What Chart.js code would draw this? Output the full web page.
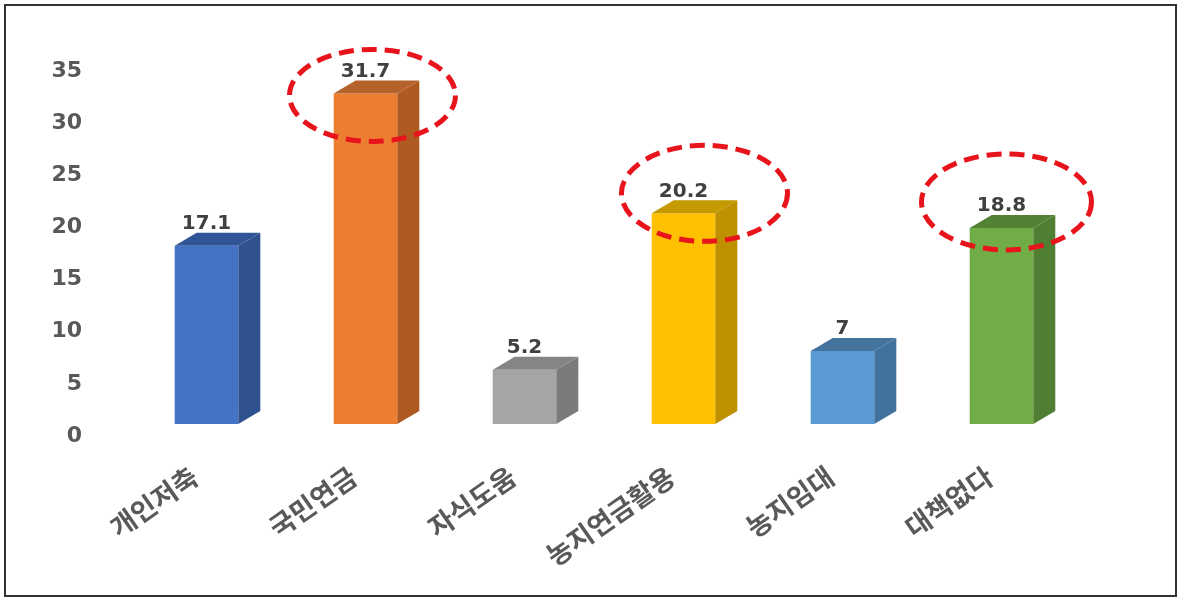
<!DOCTYPE html>
<html>
<head>
<meta charset="utf-8">
<script src="https://cdn.jsdelivr.net/npm/chart.js"></script>
<style>
  html, body { margin: 0; padding: 0; background: #fff; }
  #wrap { width: 1180px; height: 598px; position: relative; }
</style>
</head>
<body>
<div id="wrap"><canvas id="chart" width="1180" height="598"></canvas></div>
<script>
// chart data
const categories = ['개인저축', '국민연금', '자식도움', '농지연금활용', '농지임대', '대책없다'];
const values = [17.1, 31.7, 5.2, 20.2, 7, 18.8];
const yMax = 35;
const yStep = 5;
const highlighted = [1, 3, 5];  // bars circled with red dashes

// face colours (front / side / top)
const frontColors = ['#4472C4', '#ED7D31', '#A5A5A5', '#FFC000', '#5B9BD5', '#70AD47'];
const sideColors  = ['#2F528F', '#AE5A21', '#7B7B7B', '#BF9000', '#41719C', '#507E32'];
const topColors   = ['#2F5597', '#B5612A', '#858585', '#C49A00', '#44739E', '#538135'];

// hand-drawn ellipse placement relative to each circled bar: [dx, dy, rx, ry]
const ellipseOffsets = { 1: [7, 2, 83, 46], 3: [21, -20, 83, 48], 5: [5, -26, 85, 48] };

const DEPTH_X = 22, DEPTH_Y = 13;
const FONT = "'Noto Sans CJK KR', 'Noto Sans', sans-serif";
const NUM_FONT = "'DejaVu Sans', sans-serif";

const box3d = {
    id: 'box3d',
    beforeDraw(chart) {
        const c = chart.ctx;
        c.save();
        c.fillStyle = '#fff';
        c.fillRect(0, 0, chart.width, chart.height);
        c.strokeStyle = '#333';
        c.lineWidth = 2;
        c.strokeRect(5, 5, 1171, 591);
        c.restore();
    },
    afterDatasetsDraw(chart) {
        const c = chart.ctx;
        const meta = chart.getDatasetMeta(0);
        c.save();
        meta.data.forEach((bar, i) => {
            const l = bar.x - bar.width / 2, r = bar.x + bar.width / 2;
            const t = bar.y, b = bar.base;
            // side face
            c.fillStyle = sideColors[i];
            c.beginPath();
            c.moveTo(r, t); c.lineTo(r + DEPTH_X, t - DEPTH_Y);
            c.lineTo(r + DEPTH_X, b - DEPTH_Y); c.lineTo(r, b);
            c.closePath(); c.fill();
            // top face
            c.fillStyle = topColors[i];
            c.beginPath();
            c.moveTo(l, t); c.lineTo(l + DEPTH_X, t - DEPTH_Y);
            c.lineTo(r + DEPTH_X, t - DEPTH_Y); c.lineTo(r, t);
            c.closePath(); c.fill();
            // value label
            c.fillStyle = '#404040';
            c.font = 'bold 20px ' + NUM_FONT;
            c.textAlign = 'center';
            c.textBaseline = 'bottom';
            c.fillText(String(values[i]), bar.x, t - DEPTH_Y + 1);
        });
        // red dashed ellipses
        c.strokeStyle = '#E8141B';
        c.lineWidth = 5;
        c.setLineDash([15, 8]);
        highlighted.forEach(i => {
            const bar = meta.data[i];
            const [dx, dy, rx, ry] = ellipseOffsets[i];
            c.beginPath();
            c.ellipse(bar.x + dx, bar.y + dy, rx, ry, 0, 0, Math.PI * 2);
            c.stroke();
        });
        c.restore();
    }
};

new Chart(document.getElementById('chart').getContext('2d'), {
    type: 'bar',
    data: {
        labels: categories,
        datasets: [{ data: values, backgroundColor: frontColors, borderWidth: 0 }]
    },
    options: {
        responsive: false,
        animation: false,
        layout: { padding: { top: 59, bottom: 14, left: 0, right: 99 } },
        plugins: { legend: { display: false }, tooltip: { enabled: false } },
        datasets: { bar: { barPercentage: 0.4, categoryPercentage: 1 } },
        scales: {
            x: {
                grid: { display: false, drawTicks: false },
                border: { display: false },
                afterFit(scale) { scale.height = 160; },
                ticks: {
                    minRotation: 35, maxRotation: 35,
                    labelOffset: -12,
                    padding: 36,
                    color: '#595959',
                    font: { family: FONT, size: 27, weight: 'bold' }
                }
            },
            y: {
                min: 0, max: yMax,
                grid: { display: false, drawTicks: false },
                border: { display: false },
                afterFit(scale) { scale.width = 127; },
                ticks: {
                    stepSize: yStep,
                    padding: 45,
                    labelOffset: 12,
                    color: '#595959',
                    font: { family: NUM_FONT, size: 22, weight: 'bold' }
                }
            }
        }
    },
    plugins: [box3d]
});
</script>
</body>
</html>
